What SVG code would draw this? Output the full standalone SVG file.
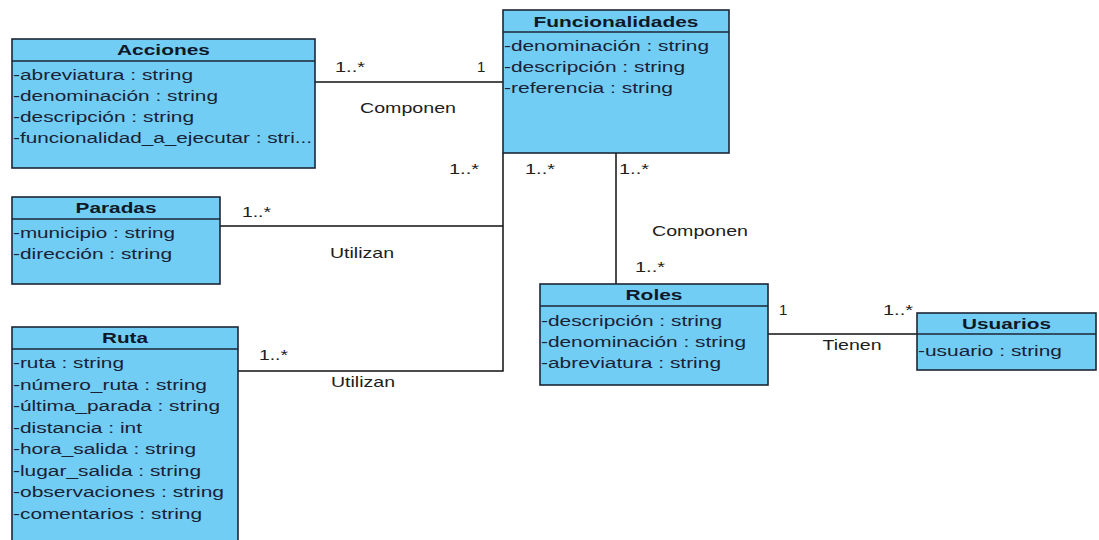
<svg xmlns="http://www.w3.org/2000/svg" width="1099" height="540" viewBox="0 0 1099 540">
  <style>
    .box { fill: #72cdf4; stroke: #1c2636; stroke-width: 1.6; }
    .sep { stroke: #1c2636; stroke-width: 1.4; }
    .hdr { font-family: "Liberation Sans", Arial, sans-serif; font-size: 15.5px; font-weight: bold; fill: #101828; text-anchor: middle; }
    .att { font-family: "Liberation Sans", Arial, sans-serif; font-size: 15.5px; fill: #1a2236; }
    .lbl { font-family: "Liberation Sans", Arial, sans-serif; font-size: 15px; fill: #202020; }
    .mid { text-anchor: middle; }
    .conn { fill: none; stroke: #111; stroke-width: 1.5; }
  </style>
  <rect width="1099" height="540" fill="#ffffff"/>

  <!-- associations -->
  <g id="connectors">
    <path class="conn" d="M315,82 H503"/>
    <path class="conn" d="M220,226 H503"/>
    <path class="conn" d="M238,371 H503 V153"/>
    <path class="conn" d="M616,153 V284"/>
    <path class="conn" d="M768,334 H917"/>

    <text class="lbl" x="335" y="72" textLength="30" lengthAdjust="spacingAndGlyphs">1..*</text>
    <text class="lbl" x="477" y="72">1</text>
    <text class="lbl mid" x="408" y="113" textLength="96" lengthAdjust="spacingAndGlyphs">Componen</text>

    <text class="lbl" x="449" y="174" textLength="30" lengthAdjust="spacingAndGlyphs">1..*</text>
    <text class="lbl" x="525" y="174" textLength="30" lengthAdjust="spacingAndGlyphs">1..*</text>
    <text class="lbl" x="619" y="174" textLength="30" lengthAdjust="spacingAndGlyphs">1..*</text>

    <text class="lbl" x="242" y="217" textLength="29" lengthAdjust="spacingAndGlyphs">1..*</text>
    <text class="lbl mid" x="362" y="258" textLength="64" lengthAdjust="spacingAndGlyphs">Utilizan</text>

    <text class="lbl" x="259" y="360" textLength="29" lengthAdjust="spacingAndGlyphs">1..*</text>
    <text class="lbl mid" x="363" y="387" textLength="64" lengthAdjust="spacingAndGlyphs">Utilizan</text>

    <text class="lbl mid" x="700" y="236" textLength="96" lengthAdjust="spacingAndGlyphs">Componen</text>
    <text class="lbl" x="635" y="272" textLength="30" lengthAdjust="spacingAndGlyphs">1..*</text>

    <text class="lbl" x="779" y="315">1</text>
    <text class="lbl" x="883" y="315" textLength="30" lengthAdjust="spacingAndGlyphs">1..*</text>
    <text class="lbl mid" x="852" y="350" textLength="59" lengthAdjust="spacingAndGlyphs">Tienen</text>
  </g>

  <g id="acciones">
    <rect class="box" x="12" y="39" width="303" height="129"/>
    <line class="sep" x1="12" y1="61" x2="315" y2="61"/>
    <text class="hdr" x="163.5" y="55" textLength="93" lengthAdjust="spacingAndGlyphs">Acciones</text>
    <text class="att" x="13" y="80" textLength="180" lengthAdjust="spacingAndGlyphs">-abreviatura : string</text>
    <text class="att" x="13" y="101" textLength="205" lengthAdjust="spacingAndGlyphs">-denominación : string</text>
    <text class="att" x="13" y="122" textLength="181" lengthAdjust="spacingAndGlyphs">-descripción : string</text>
    <text class="att" x="13" y="143" textLength="299" lengthAdjust="spacingAndGlyphs">-funcionalidad_a_ejecutar : stri...</text>
  </g>

  <g id="funcionalidades">
    <rect class="box" x="503" y="10" width="226" height="143"/>
    <line class="sep" x1="503" y1="32" x2="729" y2="32"/>
    <text class="hdr" x="616" y="27" textLength="165" lengthAdjust="spacingAndGlyphs">Funcionalidades</text>
    <text class="att" x="504" y="51" textLength="205" lengthAdjust="spacingAndGlyphs">-denominación : string</text>
    <text class="att" x="504" y="72" textLength="181" lengthAdjust="spacingAndGlyphs">-descripción : string</text>
    <text class="att" x="504" y="93" textLength="169" lengthAdjust="spacingAndGlyphs">-referencia : string</text>
  </g>

  <g id="paradas">
    <rect class="box" x="12" y="197" width="208" height="87"/>
    <line class="sep" x1="12" y1="219" x2="220" y2="219"/>
    <text class="hdr" x="116" y="213" textLength="81" lengthAdjust="spacingAndGlyphs">Paradas</text>
    <text class="att" x="13" y="238" textLength="162" lengthAdjust="spacingAndGlyphs">-municipio : string</text>
    <text class="att" x="13" y="259" textLength="159" lengthAdjust="spacingAndGlyphs">-dirección : string</text>
  </g>

  <g id="ruta">
    <rect class="box" x="12" y="327" width="226" height="220"/>
    <line class="sep" x1="12" y1="349" x2="238" y2="349"/>
    <text class="hdr" x="125" y="343" textLength="46" lengthAdjust="spacingAndGlyphs">Ruta</text>
    <text class="att" x="13" y="368" textLength="111" lengthAdjust="spacingAndGlyphs">-ruta : string</text>
    <text class="att" x="13" y="389.5" textLength="194" lengthAdjust="spacingAndGlyphs">-número_ruta : string</text>
    <text class="att" x="13" y="411" textLength="207" lengthAdjust="spacingAndGlyphs">-última_parada : string</text>
    <text class="att" x="13" y="432.5" textLength="129" lengthAdjust="spacingAndGlyphs">-distancia : int</text>
    <text class="att" x="13" y="454" textLength="183" lengthAdjust="spacingAndGlyphs">-hora_salida : string</text>
    <text class="att" x="13" y="475.5" textLength="188" lengthAdjust="spacingAndGlyphs">-lugar_salida : string</text>
    <text class="att" x="13" y="497" textLength="211" lengthAdjust="spacingAndGlyphs">-observaciones : string</text>
    <text class="att" x="13" y="518.5" textLength="189" lengthAdjust="spacingAndGlyphs">-comentarios : string</text>
  </g>

  <g id="roles">
    <rect class="box" x="540" y="284" width="228" height="101"/>
    <line class="sep" x1="540" y1="306" x2="768" y2="306"/>
    <text class="hdr" x="654" y="300" textLength="57" lengthAdjust="spacingAndGlyphs">Roles</text>
    <text class="att" x="541" y="326" textLength="181" lengthAdjust="spacingAndGlyphs">-descripción : string</text>
    <text class="att" x="541" y="347" textLength="205" lengthAdjust="spacingAndGlyphs">-denominación : string</text>
    <text class="att" x="541" y="368" textLength="180" lengthAdjust="spacingAndGlyphs">-abreviatura : string</text>
  </g>

  <g id="usuarios">
    <rect class="box" x="917" y="313" width="179" height="57"/>
    <line class="sep" x1="917" y1="334" x2="1096" y2="334"/>
    <text class="hdr" x="1006.5" y="329" textLength="89" lengthAdjust="spacingAndGlyphs">Usuarios</text>
    <text class="att" x="918" y="356" textLength="144" lengthAdjust="spacingAndGlyphs">-usuario : string</text>
  </g>
</svg>
